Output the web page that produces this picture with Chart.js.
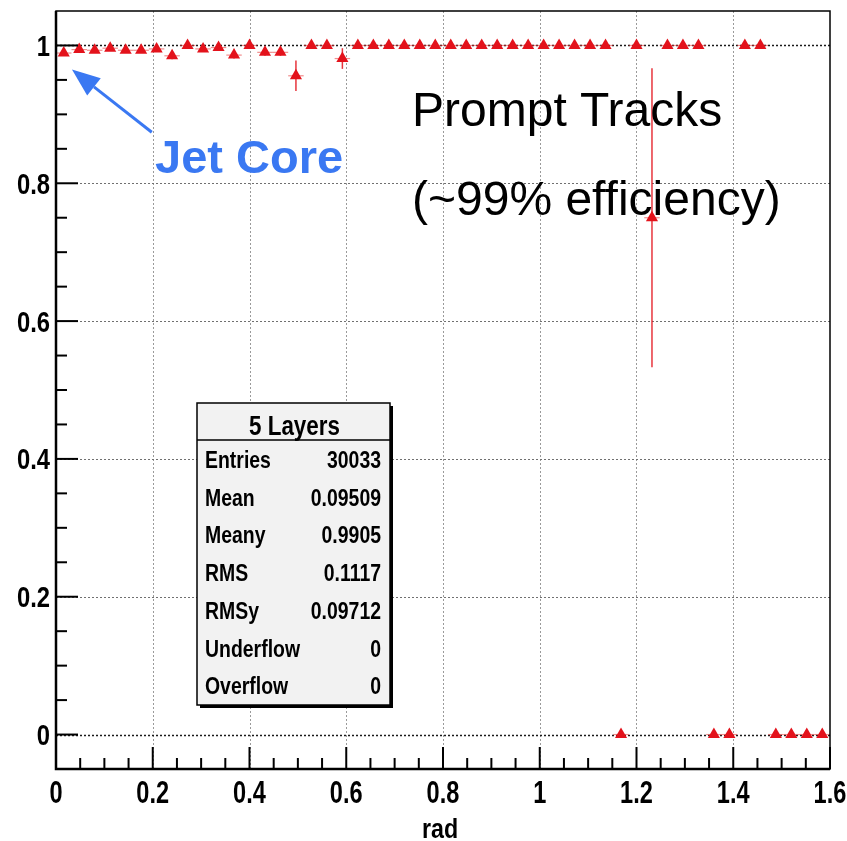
<!DOCTYPE html>
<html>
<head>
<meta charset="utf-8">
<title>Track efficiency vs rad</title>
<script src="https://cdn.jsdelivr.net/npm/chart.js@4.4.1/dist/chart.umd.min.js"></script>
<style>
  html, body { margin: 0; padding: 0; background: #fff; }
  #wrap { width: 847px; height: 841px; }
</style>
</head>
<body>
<div id="wrap"><canvas id="effChart" width="847" height="841"></canvas></div>
<script>
// ===============================
// histogram binning
// ===============================
const nBins = 50;
const xLow = 0;
const xHigh = 1.6;

// efficiency per bin (5 layers)
const efficiency = [
  0.989, 0.994, 0.993, 0.996, 0.993, 0.993, 0.995, 0.985, 1.000, 0.995,
  0.997, 0.986, 1.000, 0.990, 0.990, 0.956, 1.000, 1.000, 0.981, 1.000,
  1.000, 1.000, 1.000, 1.000, 1.000, 1.000, 1.000, 1.000, 1.000, 1.000,
  1.000, 1.000, 1.000, 1.000, 1.000, 1.000, 0.000, 1.000, 0.750, 1.000,
  1.000, 1.000, 0.000, 0.000, 1.000, 1.000, 0.000, 0.000, 0.000, 0.000
];

// error on the efficiency per bin
const effError = [
  0.004, 0.003, 0.003, 0.003, 0.003, 0.003, 0.003, 0.005, 0.000, 0.003,
  0.003, 0.005, 0.000, 0.005, 0.005, 0.022, 0.000, 0.000, 0.015, 0.000,
  0.000, 0.000, 0.000, 0.000, 0.000, 0.000, 0.000, 0.000, 0.000, 0.000,
  0.000, 0.000, 0.000, 0.000, 0.000, 0.000, 0.000, 0.000, 0.217, 0.000,
  0.000, 0.000, 0.000, 0.000, 0.000, 0.000, 0.000, 0.000, 0.000, 0.000
];

// axis ticks
const xTicks = [0, 0.2, 0.4, 0.6, 0.8, 1.0, 1.2, 1.4, 1.6];
const xTickLabels = ["0", "0.2", "0.4", "0.6", "0.8", "1", "1.2", "1.4", "1.6"];
const yTicks = [0, 0.2, 0.4, 0.6, 0.8, 1.0];
const yTickLabels = ["0", "0.2", "0.4", "0.6", "0.8", "1"];
const xTitle = "rad";

// stats box
const statsTitle = "5 Layers";
const statsLabels = ["Entries", "Mean", "Meany", "RMS", "RMSy", "Underflow", "Overflow"];
const statsValues = ["30033", "0.09509", "0.9905", "0.1117", "0.09712", "0", "0"];

const binWidth = (xHigh - xLow) / nBins;
const points = efficiency.map((e, i) => ({ x: xLow + (i + 0.5) * binWidth, y: e }));

const RED = "#e3121b";
const BLUE = "#3a78f2";
const SANS = "'Liberation Sans', Arial, Helvetica, sans-serif";

// condensed bold text (Helvetica-narrow look): squeeze horizontally
function narrowText(ctx, text, x, y, size, align, squeeze) {
  ctx.save();
  ctx.translate(x, y);
  ctx.scale(squeeze, 1);
  ctx.font = "bold " + size + "px " + SANS;
  ctx.textAlign = align;
  ctx.textBaseline = "alphabetic";
  ctx.fillText(text, 0, 0);
  ctx.restore();
}

// ROOT-like frame: dotted grid, inner ticks, error bars, stats box, labels
const rootStyle = {
  id: "rootStyle",
  beforeDatasetsDraw(chart) {
    const { ctx, chartArea: a, scales: { x, y } } = chart;
    ctx.save();
    ctx.lineWidth = 1;
    ctx.setLineDash([2, 2]);

    // vertical grid
    ctx.strokeStyle = "#9a9a9a";
    xTicks.forEach(v => {
      if (v <= xLow || v >= xHigh) return;
      const px = Math.round(x.getPixelForValue(v)) + 0.5;
      ctx.beginPath(); ctx.moveTo(px, a.top); ctx.lineTo(px, a.bottom); ctx.stroke();
    });
    // horizontal grid
    yTicks.forEach(v => {
      const py = Math.round(y.getPixelForValue(v)) + 0.5;
      ctx.strokeStyle = (v === 0 || v === 1) ? "#1a1a1a" : "#707070";
      ctx.lineWidth = (v === 0 || v === 1) ? 1.5 : 1;
      ctx.beginPath(); ctx.moveTo(a.left, py); ctx.lineTo(a.right, py); ctx.stroke();
    });
    ctx.setLineDash([]);

    // error bars
    points.forEach((p, i) => {
      const px = x.getPixelForValue(p.x);
      const py = y.getPixelForValue(p.y);
      ctx.strokeStyle = "rgba(230,50,50,0.55)";
      ctx.lineWidth = 1.2;
      ctx.beginPath();
      ctx.moveTo(x.getPixelForValue(p.x - binWidth / 2), py);
      ctx.lineTo(x.getPixelForValue(p.x + binWidth / 2), py);
      ctx.stroke();
      if (effError[i] > 0) {
        ctx.strokeStyle = "rgba(227,18,27,0.85)";
        ctx.lineWidth = 1.5;
        ctx.beginPath();
        ctx.moveTo(px, y.getPixelForValue(p.y + effError[i]));
        ctx.lineTo(px, y.getPixelForValue(p.y - effError[i]));
        ctx.stroke();
      }
    });
    ctx.restore();
  },
  afterDatasetsDraw(chart) {
    const { ctx, chartArea: a, scales: { x, y } } = chart;
    ctx.save();

    // frame
    ctx.strokeStyle = "#000";
    ctx.lineWidth = 1.5;
    ctx.strokeRect(a.left, a.top, a.right - a.left, a.bottom - a.top);
    ctx.lineWidth = 2.5;
    ctx.beginPath();
    ctx.moveTo(a.left, a.top); ctx.lineTo(a.left, a.bottom); ctx.lineTo(a.right, a.bottom);
    ctx.stroke();

    // inner ticks
    ctx.lineWidth = 2;
    for (let k = 0; k <= 32; k++) {
      const px = x.getPixelForValue(xLow + k * 0.05);
      const len = (k % 4 === 0) ? 22 : 11;
      ctx.beginPath(); ctx.moveTo(px, a.bottom); ctx.lineTo(px, a.bottom - len); ctx.stroke();
    }
    for (let k = 0; k <= 20; k++) {
      const py = y.getPixelForValue(k * 0.05);
      const len = (k % 4 === 0) ? 22 : 11;
      ctx.beginPath(); ctx.moveTo(a.left, py); ctx.lineTo(a.left + len, py); ctx.stroke();
    }

    // tick labels and axis title
    ctx.fillStyle = "#000";
    xTicks.forEach((v, i) => {
      narrowText(ctx, xTickLabels[i], x.getPixelForValue(v), a.bottom + 34, 31, "center", 0.76);
    });
    yTicks.forEach((v, i) => {
      narrowText(ctx, yTickLabels[i], a.left - 6, y.getPixelForValue(v) + 10.5, 29, "right", 0.82);
    });
    narrowText(ctx, xTitle, (a.left + a.right) / 2 - 3, 838, 27, "center", 0.86);

    // stats box
    const bx = 197, by = 403, bw = 193, bh = 302;
    ctx.fillStyle = "#000";
    ctx.fillRect(bx + 3, by + 3, bw, bh);
    ctx.fillStyle = "#f2f2f2";
    ctx.fillRect(bx, by, bw, bh);
    ctx.lineWidth = 1.5;
    ctx.strokeRect(bx, by, bw, bh);
    ctx.beginPath(); ctx.moveTo(bx, by + 37); ctx.lineTo(bx + bw, by + 37); ctx.stroke();
    ctx.fillStyle = "#000";
    narrowText(ctx, statsTitle, bx + bw / 2 + 1, by + 32, 28, "center", 0.8);
    statsLabels.forEach((lab, k) => {
      const base = by + 65 + k * 37.7;
      narrowText(ctx, lab, bx + 8, base, 24, "left", 0.81);
      narrowText(ctx, statsValues[k], bx + bw - 9, base, 24, "right", 0.81);
    });

    // text labels
    ctx.textAlign = "left";
    ctx.textBaseline = "alphabetic";
    ctx.fillStyle = "#000";
    ctx.font = "48px " + SANS;
    ctx.fillText("Prompt Tracks", 412, 126);
    ctx.fillText("(~99% efficiency)", 412, 215);
    ctx.fillStyle = BLUE;
    ctx.font = "bold 47px " + SANS;
    ctx.fillText("Jet Core", 155, 173);

    // arrow towards the first bins
    const tx = x.getPixelForValue(0.033), ty = y.getPixelForValue(0.965);
    const sx = x.getPixelForValue(0.198), sy = y.getPixelForValue(0.874);
    const ang = Math.atan2(ty - sy, tx - sx);
    const headLen = 28, headW = 11;
    const hx = tx - headLen * Math.cos(ang), hy = ty - headLen * Math.sin(ang);
    ctx.strokeStyle = BLUE;
    ctx.lineWidth = 3;
    ctx.beginPath(); ctx.moveTo(sx, sy); ctx.lineTo(hx, hy); ctx.stroke();
    ctx.beginPath();
    ctx.moveTo(tx, ty);
    ctx.lineTo(hx + headW * Math.sin(ang), hy - headW * Math.cos(ang));
    ctx.lineTo(hx - headW * Math.sin(ang), hy + headW * Math.cos(ang));
    ctx.closePath();
    ctx.fill();

    ctx.restore();
  }
};

new Chart(document.getElementById("effChart"), {
  type: "scatter",
  data: {
    datasets: [{
      label: statsTitle,
      data: points,
      pointStyle: "triangle",
      pointRadius: 7,
      pointHoverRadius: 7,
      borderWidth: 0,
      backgroundColor: RED,
      borderColor: RED
    }]
  },
  options: {
    responsive: false,
    animation: false,
    layout: { padding: { top: 11, right: 17, left: 0, bottom: 0 } },
    plugins: {
      legend: { display: false },
      tooltip: { enabled: false }
    },
    scales: {
      x: {
        type: "linear",
        min: xLow,
        max: xHigh,
        afterFit: s => { s.height = 72; s.paddingLeft = 0; s.paddingRight = 0; },
        afterBuildTicks: s => { s.ticks = xTicks.map(v => ({ value: v })); },
        grid: { display: false, drawTicks: false },
        border: { display: false },
        ticks: { display: false }
      },
      y: {
        type: "linear",
        min: -0.05,
        max: 1.05,
        afterFit: s => { s.width = 56; s.paddingTop = 0; s.paddingBottom = 0; },
        afterBuildTicks: s => { s.ticks = yTicks.map(v => ({ value: v })); },
        grid: { display: false, drawTicks: false },
        border: { display: false },
        ticks: { display: false }
      }
    }
  },
  plugins: [rootStyle]
});
</script>
</body>
</html>
